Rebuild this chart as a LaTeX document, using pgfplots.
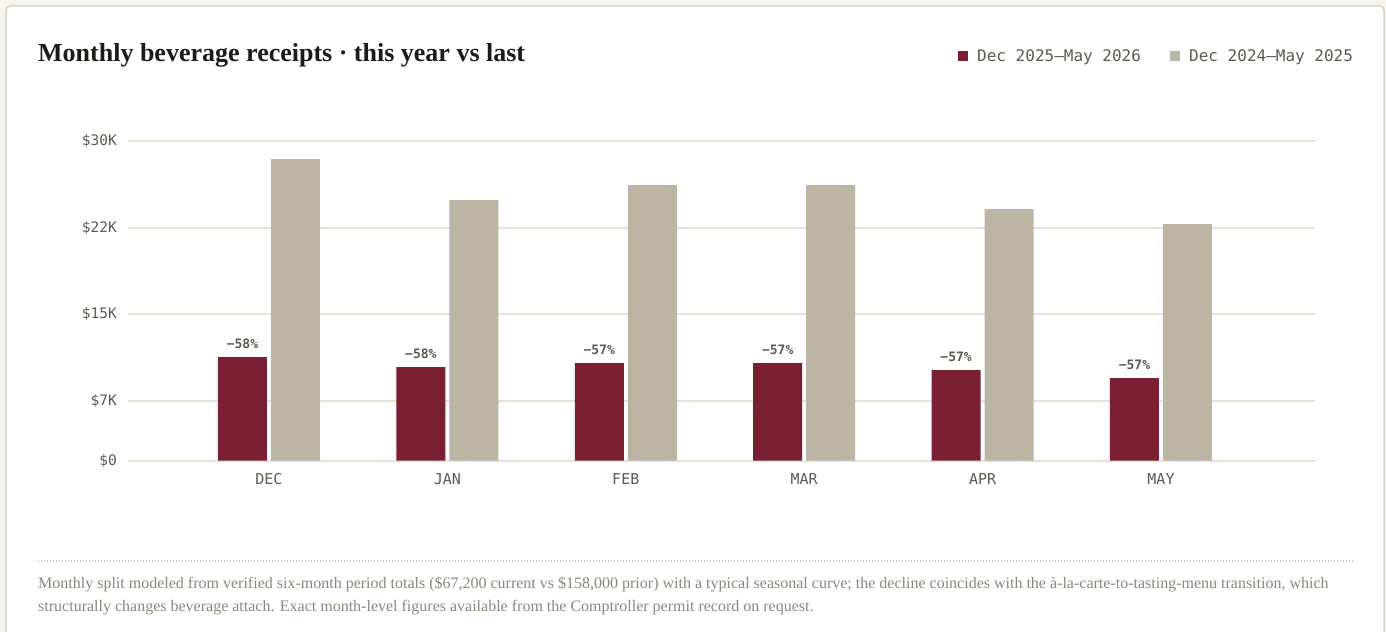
\documentclass[border=0pt]{standalone}
\usepackage{fontspec}
\setmainfont{Liberation Serif}
\newfontfamily\mono{DejaVu Sans Mono}
\usepackage{pgfplots}
\pgfplotsset{compat=1.18}
\definecolor{cur}{HTML}{7B2033}
\definecolor{prior}{HTML}{BDB5A3}
\definecolor{gridc}{HTML}{E7E2D4}
\definecolor{txt}{HTML}{5F5A50}
\definecolor{foot}{HTML}{8C877B}
\definecolor{bg}{HTML}{F7F5EF}
\definecolor{border}{HTML}{DAD4C3}
\definecolor{dotc}{HTML}{CFC9B8}
\definecolor{titlec}{HTML}{1C1B18}
\begin{document}
\begin{tikzpicture}
\useasboundingbox (0bp,0bp) rectangle (1386bp,632bp);
\clip (0bp,0bp) rectangle (1386bp,632bp);
\fill[bg] (0bp,0bp) rectangle (1386bp,632bp);
\filldraw[fill=white, draw=border, line width=1.5bp, rounded corners=4bp] (6bp,-20bp) rectangle (1384bp,626bp);
% title
\node[anchor=base west, inner sep=0pt, font=\fontsize{26bp}{30bp}\selectfont\bfseries, text=titlec] at (38bp,570bp) {Monthly beverage receipts · this year vs last};
% legend
\fill[cur] (958bp,571bp) rectangle (968bp,581bp);
\node[anchor=base west, inner sep=0pt, font=\mono\fontsize{16bp}{18bp}\selectfont, text=txt] at (977bp,570bp) {Dec 2025—May 2026};
\fill[prior] (1170bp,571bp) rectangle (1180bp,581bp);
\node[anchor=base west, inner sep=0pt, font=\mono\fontsize{16bp}{18bp}\selectfont, text=txt] at (1189bp,570bp) {Dec 2024—May 2025};
\begin{axis}[
  at={(128bp,171.3bp)}, anchor=south west, scale only axis,
  width=1187bp, height=319.4bp,
  xmin=-0.790, xmax=5.863, ymin=2.3, ymax=30,
  ybar=4bp, bar width=49bp,
  axis line style={draw=none}, major tick length=0pt,
  ytick={2.3,7.5,15,22.5,30},
  yticklabels={\$0,\$7K,\$15K,\$22K,\$30K},
  ymajorgrids, grid style={gridc, line width=1.8bp},
  xtick={0,1,2,3,4,5},
  xticklabels={DEC,JAN,FEB,MAR,APR,MAY},
  tick label style={text=txt, inner sep=0pt},
  y tick label style={font=\mono\fontsize{14.5bp}{16bp}\selectfont, anchor=east, xshift=-11bp},
  x tick label style={font=\mono\fontsize{15bp}{17bp}\selectfont, anchor=north, yshift=-12.5bp},
]
\addplot[fill=cur, draw=none, nodes near coords, point meta=explicit symbolic,
  every node near coord/.append style={anchor=base, inner sep=0pt, yshift=9bp, font=\mono\bfseries\fontsize{13bp}{15bp}\selectfont, text=txt}]
  coordinates {(0,11.29) [−58\%] (1,10.42) [−58\%] (2,10.77) [−57\%] (3,10.77) [−57\%] (4,10.16) [−57\%] (5,9.47) [−57\%]};
\addplot[fill=prior, draw=none]
  coordinates {(0,28.46) (1,24.90) (2,26.20) (3,26.20) (4,24.12) (5,22.82)};
\end{axis}
% footnote
\draw[dotc, line width=1.2bp, dash pattern=on 1.2bp off 1.8bp] (38bp,71bp) -- (1353bp,71bp);
\node[anchor=base west, inner sep=0pt, font=\fontsize{16bp}{18bp}\selectfont, text=foot] at (38bp,43bp) {Monthly split modeled from verified six-month period totals (\$67,200 current vs \$158,000 prior) with a typical seasonal curve; the decline coincides with the à-la-carte-to-tasting-menu transition, which};
\node[anchor=base west, inner sep=0pt, font=\fontsize{16bp}{18bp}\selectfont, text=foot] at (38bp,21bp) {structurally changes beverage attach. Exact month-level figures available from the Comptroller permit record on request.};
\end{tikzpicture}
\end{document}
